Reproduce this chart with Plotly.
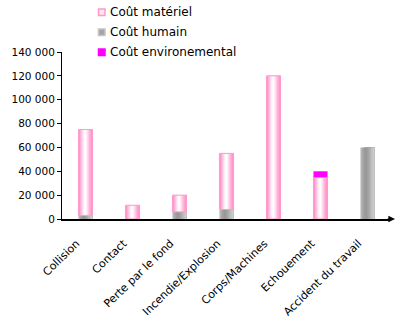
import plotly.graph_objects as go

# Cost breakdown per accident type
categories = ["Collision", "Contact", "Perte par le fond", "Incendie/Explosion",
              "Corps/Machines", "Echouement", "Accident du travail"]
cout_humain = [3000, 0, 6000, 8000, 0, 0, 60000]
cout_materiel = [72000, 11500, 14000, 47000, 120000, 35000, 0]
cout_environ = [0, 0, 0, 0, 0, 5000, 0]

series_names = ["Coût matériel", "Coût humain", "Coût environemental"]

BAR_W = 0.3
FONT = "DejaVu Sans"

# horizontal shading profiles (left -> right) for the gradient-filled bars
pink_profile = ["#FF99CC", "#FFC2E0", "#FFEEF6", "#FFFFFF", "#FFDDEE", "#FFB3D9", "#FF99CC"]
gray_profile = ["#B4B4B4", "#A2A2A2", "#979797", "#9D9D9D", "#ADADAD", "#BEBEBE", "#CBCBCB"]
magenta_profile = ["#FF00FF"]

x_idx = list(range(len(categories)))


def nz(v):
    return [a if a else None for a in v]


base_materiel = cout_humain
base_environ = [h + m for h, m in zip(cout_humain, cout_materiel)]

fig = go.Figure()


def add_shaded(values, base, profile):
    n = len(profile)
    step = BAR_W / n
    for i, col in enumerate(profile):
        fig.add_trace(go.Bar(
            x=x_idx, y=nz(values), base=base,
            width=BAR_W - i * step, offset=-BAR_W / 2 + i * step,
            marker=dict(color=col, line=dict(width=0)),
            showlegend=False, hoverinfo="skip",
        ))


add_shaded(cout_humain, [0] * len(categories), gray_profile)
add_shaded(cout_materiel, base_materiel, pink_profile)
# pink outline around material-cost bars
fig.add_trace(go.Bar(
    x=x_idx, y=nz(cout_materiel), base=base_materiel,
    width=BAR_W, offset=-BAR_W / 2,
    marker=dict(color="rgba(0,0,0,0)", line=dict(width=1, color="#FF99CC")),
    showlegend=False, hoverinfo="skip",
))
add_shaded(cout_environ, base_environ, magenta_profile)

# plot area geometry in pixels (used for legend placement)
L, R, T, B = 62, 7, 52, 110
W, H = 398, 329
pw, ph = W - L - R, H - T - B


def px_x(p):
    return (p - L) / pw


def px_y(p):
    return (H - B - p) / ph


legend_rows = [
    (series_names[0], "#FFE4F1", "#FF99CC", 12),
    (series_names[1], "#A4A4A4", "#C4C4C4", 32),
    (series_names[2], "#FF00FF", "#FF00FF", 52),
]
shapes = []
annotations = []
for name, fill, edge, yc in legend_rows:
    shapes.append(dict(type="rect", xref="paper", yref="paper",
                       x0=px_x(98.5), x1=px_x(105), y0=px_y(yc + 3.5), y1=px_y(yc - 3),
                       fillcolor=fill, line=dict(color=edge, width=1.5)))
    annotations.append(dict(text=name, xref="paper", yref="paper",
                            x=px_x(107.5), y=px_y(yc), xanchor="left", yanchor="middle",
                            showarrow=False, font=dict(family=FONT, size=12, color="black")))

# arrow at the end of the category axis
annotations.append(dict(text="", xref="paper", yref="paper", x=px_x(395), y=0,
                        ax=-9, ay=0, showarrow=True, arrowhead=2, arrowsize=1.1,
                        arrowwidth=1.2, arrowcolor="black"))

fig.update_layout(
    width=W, height=H,
    margin=dict(l=L, r=R, t=T, b=B, pad=0),
    barmode="overlay",
    paper_bgcolor="white", plot_bgcolor="white",
    separators=", ",
    showlegend=False,
    shapes=shapes,
    annotations=annotations,
    font=dict(family=FONT, color="black"),
)
fig.update_xaxes(
    range=[-0.5, len(categories) - 0.5],
    tickmode="array", tickvals=x_idx, ticktext=categories,
    tickangle=-44, tickfont=dict(family=FONT, size=11, color="black"),
    ticklabelstandoff=12, ticklabelshift=-9,
    showline=True, linecolor="black", linewidth=1.5,
    ticks="", showgrid=False, zeroline=False,
)
fig.update_yaxes(
    range=[0, 140000], dtick=20000, tickformat=",d",
    tickfont=dict(family=FONT, size=10.5, color="black"),
    showline=True, linecolor="black", linewidth=1,
    ticks="outside", ticklen=4, tickcolor="black",
    showgrid=False, zeroline=False,
)

fig.write_html("out.html")
